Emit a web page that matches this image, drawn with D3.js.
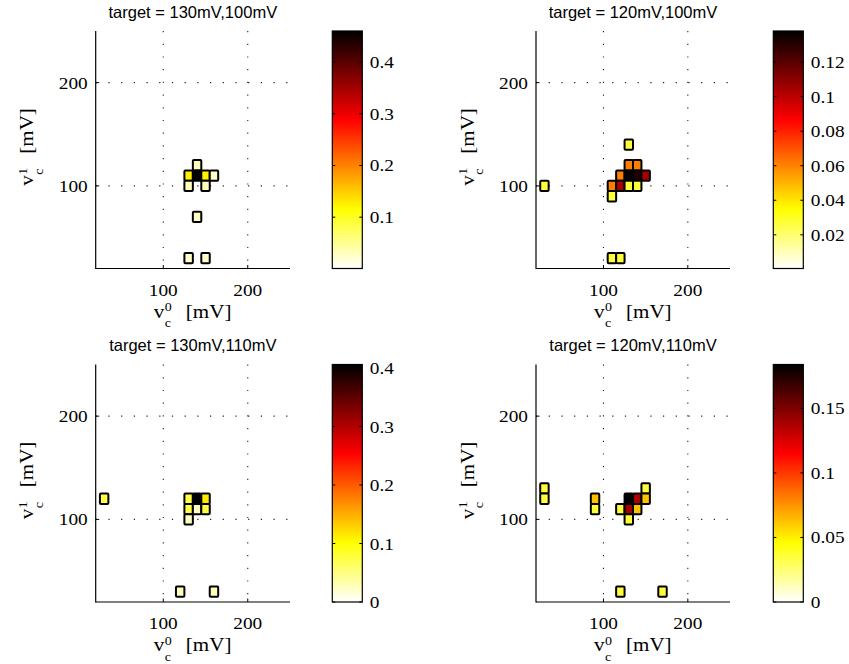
<!DOCTYPE html>
<html><head><meta charset="utf-8">
<script src="https://cdn.jsdelivr.net/npm/d3@7"></script>
<style>body{margin:0;background:#fff}svg{display:block}</style>
</head><body>
<script>
// ---------------- data ----------------
const titles = ["target = 130mV,100mV", "target = 120mV,100mV", "target = 130mV,110mV", "target = 120mV,110mV"];
const axisDomain = [20, 250];
const axisTicks = [100, 200];

const p1X = [140, 130, 140, 150, 160, 130, 150, 140, 130, 150];
const p1Y = [120, 110, 110, 110, 110, 100, 100, 70, 30, 30];
const p1V = [0.03, 0.125, 0.46, 0.125, 0.025, 0.03, 0.03, 0.025, 0.025, 0.025];

const p2X = [30, 130, 130, 140, 120, 130, 140, 150, 110, 120, 130, 140, 110, 110, 120];
const p2Y = [100, 140, 120, 120, 110, 110, 110, 110, 100, 100, 100, 100, 90, 30, 30];
const p2V = [0.027, 0.027, 0.061, 0.061, 0.061, 0.138, 0.132, 0.104, 0.061, 0.104, 0.027, 0.027, 0.027, 0.027, 0.027];

const p3X = [30, 130, 140, 150, 130, 140, 150, 130, 120, 160];
const p3Y = [120, 120, 120, 120, 110, 110, 110, 100, 30, 30];
const p3V = [0.075, 0.075, 0.406, 0.115, 0.075, 0.025, 0.075, 0.025, 0.025, 0.025];

const p4X = [30, 30, 90, 90, 120, 130, 130, 130, 140, 140, 150, 150, 120, 170];
const p4Y = [130, 120, 120, 110, 110, 120, 110, 100, 120, 110, 130, 120, 30, 30];
const p4V = [0.035, 0.035, 0.063, 0.035, 0.035, 0.184, 0.14, 0.035, 0.138, 0.063, 0.035, 0.063, 0.035, 0.035];

const cbDomains = [[0.0008, 0.46], [0.0005, 0.138], [0, 0.406], [0, 0.184]];
const cbTicks1 = [0.1, 0.2, 0.3, 0.4];
const cbTicks2 = [0.02, 0.04, 0.06, 0.08, 0.1, 0.12];
const cbTicks3 = [0, 0.1, 0.2, 0.3, 0.4];
const cbTicks4 = [0, 0.05, 0.1, 0.15];

// ---------------- helpers ----------------
function hotRev(t) {           // reversed MATLAB "hot": white -> yellow -> red -> black
  const s = 1 - Math.max(0, Math.min(1, t));
  const cl = v => Math.max(0, Math.min(1, v));
  const r = cl(s * 8 / 3), g = cl((s - 3 / 8) * 8 / 3), b = cl((s - 0.75) * 4);
  return d3.rgb(r * 255, g * 255, b * 255).formatHex();
}

const W = 849, H = 664;
const svg = d3.select("body").append("svg").attr("width", W).attr("height", H);
const defs = svg.append("defs");
const SERIF = "'Liberation Serif','Times New Roman',serif";
const SANS = "'Liberation Sans',Arial,sans-serif";
const SX = 1.17; // horizontal stretch of serif glyphs

function stext(g, x, y, str, size, anchor) {
  return g.append("text").attr("transform", `translate(${x},${y}) scale(${SX},1)`)
    .attr("font-family", SERIF).attr("font-size", size).attr("text-anchor", anchor || "start")
    .attr("fill", "#000").text(str);
}
function varLabel(g, sup) {   // draws "v_c^sup [mV]" centered at 0, baseline at 0
  stext(g, -38, 0, "v", 18);
  stext(g, -27, -6.5, sup, 12);
  stext(g, -27, 9.5, "c", 12);
  stext(g, -6, 0, "[mV]", 18);
}

const layout = [
  {l: 95.7, r: 290, t: 31, b: 268.5, cb: 332.3},
  {l: 536, r: 730, t: 31, b: 268.5, cb: 773.3},
  {l: 95.7, r: 290, t: 364.5, b: 602, cb: 332.3},
  {l: 536, r: 730, t: 364.5, b: 602, cb: 773.3}
];
const panelData = [[p1X, p1Y, p1V], [p2X, p2Y, p2V], [p3X, p3Y, p3V], [p4X, p4Y, p4V]];
const cbTicks = [cbTicks1, cbTicks2, cbTicks3, cbTicks4];

layout.forEach((L, i) => {
  const g = svg.append("g");
  const x = d3.scaleLinear().domain(axisDomain).range([L.l, L.r]);
  const y = d3.scaleLinear().domain(axisDomain).range([L.b, L.t]);
  const [X, Y, V] = panelData[i];
  const dom = cbDomains[i];
  const c = d3.scaleLinear().domain(dom).range([0, 1]).clamp(true);

  // dotted grid
  axisTicks.forEach(tv => {
    g.append("line").attr("x1", x(tv)).attr("x2", x(tv)).attr("y1", L.t).attr("y2", L.b)
      .attr("stroke", "#222").attr("stroke-width", 1.1).attr("stroke-dasharray", "1.2,11.5");
    g.append("line").attr("x1", L.l).attr("x2", L.r).attr("y1", y(tv)).attr("y2", y(tv))
      .attr("stroke", "#222").attr("stroke-width", 1.1).attr("stroke-dasharray", "1.2,11.5");
  });

  // cells
  const cells = X.map((xv, k) => ({x: xv, y: Y[k], v: V[k]}));
  g.selectAll("rect.cell").data(cells).enter().append("rect").attr("class", "cell")
    .attr("x", d => x(d.x - 5)).attr("y", d => y(d.y + 5))
    .attr("width", d => x(d.x + 5) - x(d.x - 5)).attr("height", d => y(d.y - 5) - y(d.y + 5))
    .attr("rx", 1).attr("fill", d => hotRev(c(d.v)))
    .attr("stroke", "#000").attr("stroke-width", 2);

  // axes lines
  g.append("line").attr("x1", L.l).attr("x2", L.l).attr("y1", L.t).attr("y2", L.b + 0.5).attr("stroke", "#000").attr("stroke-width", 1.2);
  g.append("line").attr("x1", L.l).attr("x2", L.r).attr("y1", L.b).attr("y2", L.b).attr("stroke", "#000").attr("stroke-width", 1.2);
  axisTicks.forEach(tv => {
    g.append("line").attr("x1", x(tv)).attr("x2", x(tv)).attr("y1", L.b).attr("y2", L.b - 3.5).attr("stroke", "#000");
    g.append("line").attr("x1", L.l).attr("x2", L.l + 3.5).attr("y1", y(tv)).attr("y2", y(tv)).attr("stroke", "#000");
    stext(g, x(tv), L.b + 27, String(tv), 16.5, "middle");
    stext(g, L.l - 8, y(tv) + 6, String(tv), 16.5, "end");
  });

  // title
  g.append("text").attr("x", (L.l + L.r) / 2).attr("y", L.t - 13.5).attr("text-anchor", "middle")
    .attr("font-family", SANS).attr("font-size", 16.5).attr("fill", "#000").text(titles[i]);

  // axis labels
  varLabel(g.append("g").attr("transform", `translate(${(L.l + L.r) / 2 - 1},${L.b + 49})`), "0");
  varLabel(g.append("g").attr("transform", `translate(${L.l - 62.5},${(L.t + L.b) / 2 - 2}) rotate(-90)`), "1");

  // colorbar
  const gid = "grad" + i;
  const grad = defs.append("linearGradient").attr("id", gid).attr("x1", 0).attr("y1", 1).attr("x2", 0).attr("y2", 0);
  d3.range(0, 1.0001, 1 / 64).forEach(t => grad.append("stop").attr("offset", t).attr("stop-color", hotRev(t)));
  const cbW = 30;
  const cy = d3.scaleLinear().domain(dom).range([L.b, L.t]);
  g.append("rect").attr("x", L.cb).attr("y", L.t).attr("width", cbW).attr("height", L.b - L.t)
    .attr("fill", `url(#${gid})`).attr("stroke", "#000").attr("stroke-width", 1.2);
  cbTicks[i].forEach(tv => {
    const ty = cy(tv);
    g.append("line").attr("x1", L.cb).attr("x2", L.cb + 3).attr("y1", ty).attr("y2", ty).attr("stroke", "#000");
    g.append("line").attr("x1", L.cb + cbW - 3).attr("x2", L.cb + cbW).attr("y1", ty).attr("y2", ty).attr("stroke", "#000");
    stext(g, L.cb + cbW + 7.5, ty + 6, String(tv), 16.5, "start");
  });
});
</script>
</body></html>
